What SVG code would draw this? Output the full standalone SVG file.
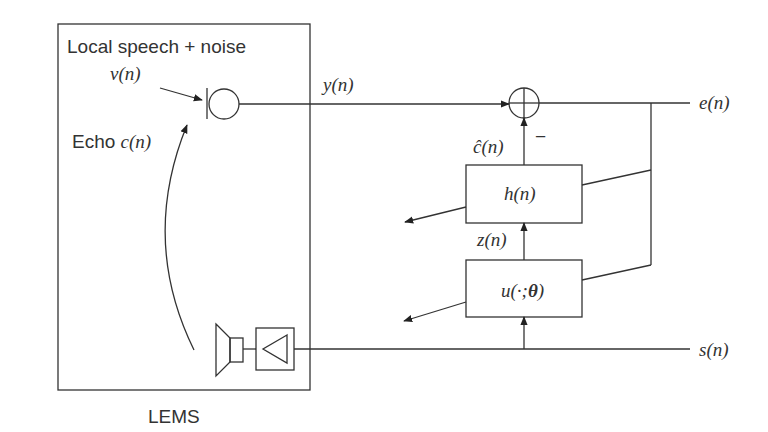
<svg xmlns="http://www.w3.org/2000/svg" width="768" height="432" viewBox="0 0 768 432">
<style>
.s{fill:none;stroke:#333;stroke-width:1.3}
.a{font-family:"Liberation Sans",Arial,sans-serif;font-size:19px;fill:#333}
.m{font-family:"Liberation Serif","Times New Roman",serif;font-style:italic;font-size:19px;fill:#333}
</style>
<defs><marker id="ar" viewBox="0 0 10 10" refX="9" refY="5" markerWidth="7" markerHeight="7" orient="auto"><path d="M0,1 L10,5 L0,9 z" fill="#222"/></marker></defs>
<rect width="768" height="432" fill="#fff"/>
<g id="lems"><rect class="s" x="58" y="24" width="252" height="366"/>
<text class="a" x="67" y="53" font-size="20">Local speech + noise</text>
<text class="m" x="110" y="80">v(n)</text>
<text class="a" x="72" y="148">Echo <tspan class="m">c(n)</tspan></text>
<text class="a" x="148" y="423">LEMS</text></g>
<g id="mic"><line class="s" x1="207" y1="88" x2="207" y2="119"/><circle class="s" cx="224" cy="104" r="15"/></g>
<g id="speaker"><path class="s" d="M216,324 L230,338 L230,362 L216,376 Z"/><rect class="s" x="230" y="338" width="13" height="24"/>
<rect class="s" x="256" y="328" width="38" height="42"/><path class="s" d="M287,335 L263,349 L287,363 Z"/></g>
<g id="sum"><circle class="s" cx="524" cy="103" r="15"/><line class="s" x1="509" y1="103" x2="539" y2="103"/><line class="s" x1="524" y1="88" x2="524" y2="118"/></g>
<g id="h"><rect class="s" x="466" y="165" width="116" height="58"/><text class="m" x="504" y="200">h(n)</text></g>
<g id="u"><rect class="s" x="466" y="260" width="116" height="57"/><text class="m" x="501" y="297">u(·;<tspan font-weight="bold">θ</tspan>)</text></g>
<g id="connectors">
<line class="s" x1="160" y1="88" x2="202" y2="100" marker-end="url(#ar)"/>
<path class="s" d="M194,350 Q140,240 187,125" marker-end="url(#ar)"/>
<line class="s" x1="239" y1="104" x2="509" y2="104" marker-end="url(#ar)"/>
<line class="s" x1="539" y1="103" x2="690" y2="103"/>
<line class="s" x1="651" y1="103" x2="651" y2="265"/>
<line class="s" x1="582" y1="185" x2="651" y2="170"/>
<line class="s" x1="582" y1="280" x2="651" y2="265"/>
<line class="s" x1="466" y1="207" x2="405" y2="222" marker-end="url(#ar)"/>
<line class="s" x1="466" y1="302" x2="404" y2="321" marker-end="url(#ar)"/>
<line class="s" x1="243" y1="349" x2="256" y2="349"/>
<line class="s" x1="294" y1="349" x2="690" y2="349"/>
<line class="s" x1="524" y1="349" x2="524" y2="317" marker-end="url(#ar)"/>
<line class="s" x1="524" y1="260" x2="524" y2="223" marker-end="url(#ar)"/>
<line class="s" x1="524" y1="165" x2="524" y2="118" marker-end="url(#ar)"/>
</g>
<g id="labels">
<text class="m" x="323" y="91">y(n)</text>
<text class="m" x="473" y="153">ĉ(n)</text>
<text class="a" x="535" y="143">−</text>
<text class="m" x="477" y="246">z(n)</text>
<text class="m" x="699" y="109">e(n)</text>
<text class="m" x="699" y="356">s(n)</text>
</g>
</svg>
